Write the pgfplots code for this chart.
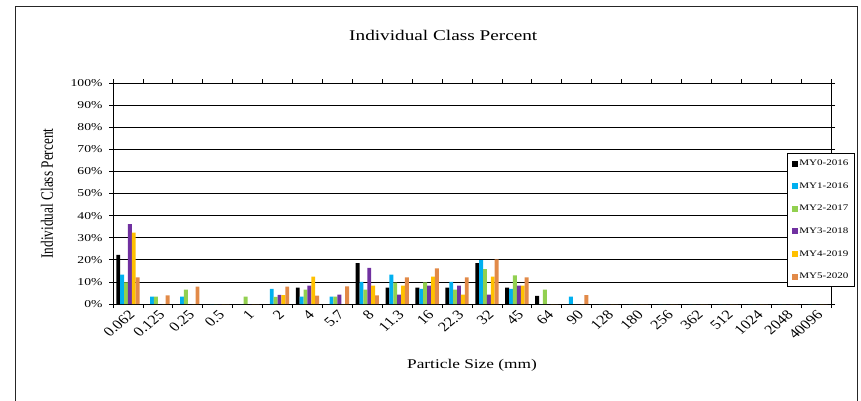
\documentclass[border=0pt]{standalone}
\usepackage{fontspec}
\setmainfont{Liberation Serif}
\newfontfamily\hfont{Liberation Serif}[FakeStretch=1.3]
\newfontfamily\vfont{Liberation Serif}[FakeStretch=0.77]
\usepackage{pgfplots}
\usepackage{pgfplotstable}
\pgfplotsset{compat=1.18}
\definecolor{c0}{RGB}{0,0,0}
\definecolor{c1}{RGB}{0,176,240}
\definecolor{c2}{RGB}{146,208,80}
\definecolor{c3}{RGB}{112,48,160}
\definecolor{c4}{RGB}{255,192,0}
\definecolor{c5}{RGB}{226,138,72}
\pgfplotstableread{
x a b c d e f
0 22.2 13.3 9.8 36.2 32.3 12.0
1 0 3.3 3.3 0 0 3.9
2 0 3.3 6.5 0 0 7.9
3 0 0 0 0 0 0
4 0 0 3.3 0 0 0
5 0 6.8 3.2 4.1 4.0 7.9
6 7.4 3.3 6.5 8.3 12.4 3.8
7 0 3.3 3.3 4.2 0 8.0
8 18.5 10.0 6.5 16.4 8.3 3.9
9 7.4 13.3 9.7 4.2 8.3 12.0
10 7.4 6.8 9.8 8.3 12.4 16.1
11 7.4 10.0 6.5 8.3 4.2 12.1
12 18.5 19.8 15.8 4.2 12.4 20.2
13 7.4 6.8 13.0 8.3 8.3 12.1
14 3.7 0 6.5 0 0 0
15 0 3.3 0 0 0 4.0
16 0 0 0 0 0 0
17 0 0 0 0 0 0
18 0 0 0 0 0 0
19 0 0 0 0 0 0
20 0 0 0 0 0 0
21 0 0 0 0 0 0
22 0 0 0 0 0 0
23 0 0 0 0 0 0
}\data
\begin{document}
\begin{tikzpicture}
\useasboundingbox (0pt,0pt) rectangle (861pt,400pt);
\draw[line width=1pt, black!85] (15pt,-5pt) -- (15pt,393pt) -- (857pt,393pt) -- (857pt,-5pt);
\begin{axis}[at={(113pt,96pt)}, anchor=south west, width=718pt, height=221pt, scale only axis,
 ybar=0pt, bar width=0.13,
 xmin=-0.5, xmax=23.5, ymin=0, ymax=100,
 xtick={0,...,23},
 xticklabels={0.062,0.125,0.25,0.5,1,2,4,5.7,8,11.3,16,22.3,32,45,64,90,128,180,256,362,512,1024,2048,40096},
 minor xtick={-0.5,0.5,...,23.5},
 major x tick style={draw=none},
 ytick={0,10,...,100},
 yticklabel={\pgfmathprintnumber{\tick}\%},
 /pgf/number format/assume math mode=true,
 tick align=outside, major tick length=4pt, minor tick length=4pt,
 tick style={black, line width=0.8pt},
 axis line style={black, line width=0.8pt},
 ymajorgrids, major grid style={black, line width=0.8pt},
 yticklabel style={font=\hfont\fontsize{10.5}{12}\selectfont, xshift=-3pt},
 xticklabel style={font=\fontsize{13.5}{15}\selectfont, xscale=1.2, rotate=45, anchor=north east, inner sep=1pt},
 title={Individual Class Percent},
 title style={at={(rel axis cs:0.46,1.186)}, anchor=center, font=\hfont\fontsize{14.8}{17}\selectfont},
 xlabel={Particle Size (mm)},
 xlabel style={at={(rel axis cs:0.5,-0.276)}, anchor=center, font=\hfont\fontsize{13.3}{15}\selectfont},
 ylabel={Individual Class Percent},
 ylabel style={at={(rel axis cs:-0.092,0.5)}, anchor=center, rotate=0, font=\vfont\fontsize{17.3}{19}\selectfont},
 legend style={at={(rel axis cs:0.9387,0.683)}, anchor=north west, draw=black, line width=0.8pt,
   font=\hfont\fontsize{8.5}{10}\selectfont, row sep=12.5pt, inner xsep=4.5pt, inner ysep=5pt,
   nodes={inner sep=1.5pt}},
 legend cell align=left,
 legend image code/.code={\fill[#1] (0pt,-3pt) rectangle (6pt,3pt);},
]
\addplot[fill=c0, draw=none] table[x=x,y=a]{\data};
\addplot[fill=c1, draw=none] table[x=x,y=b]{\data};
\addplot[fill=c2, draw=none] table[x=x,y=c]{\data};
\addplot[fill=c3, draw=none] table[x=x,y=d]{\data};
\addplot[fill=c4, draw=none] table[x=x,y=e]{\data};
\addplot[fill=c5, draw=none] table[x=x,y=f]{\data};
\legend{MY0-2016,MY1-2016,MY2-2017,MY3-2018,MY4-2019,MY5-2020}
\end{axis}
\end{tikzpicture}
\end{document}
